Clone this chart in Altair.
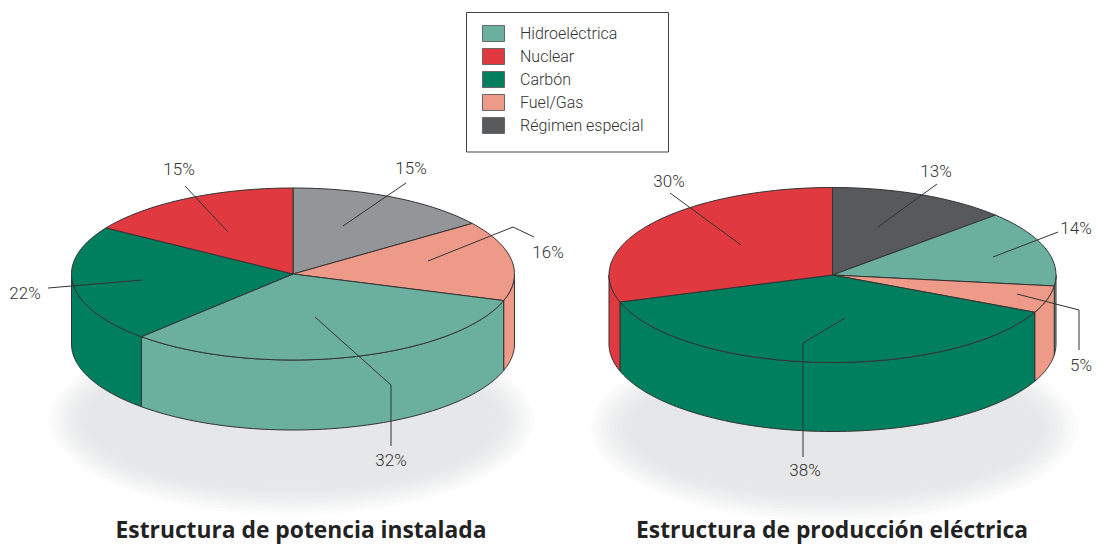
import math
import altair as alt
import pandas as pd

# ---- values ----
HIDRO, NUCLEAR, CARBON, FUEL, REGIMEN = (
    "Hidroeléctrica", "Nuclear", "Carbón", "Fuel/Gas", "Régimen especial")
legend_names = [HIDRO, NUCLEAR, CARBON, FUEL, REGIMEN]
legend_colors = ["#6BB09E", "#E03A40", "#007F5F", "#EE9A88", "#58595B"]
extra_name = "Régimen especial (potencia)"
extra_color = "#939598"

left_cats = [extra_name, FUEL, HIDRO, CARBON, NUCLEAR]
left_shares = [15, 15, 32, 22, 16]
right_cats = [REGIMEN, HIDRO, FUEL, CARBON, NUCLEAR]
right_shares = [13, 14, 5, 38, 30]

left_geom = dict(cx=293, cy=274, rx=221.5, ry=86, depth=70)
right_geom = dict(cx=832.5, cy=275, rx=223.5, ry=87.5, depth=69)

left_shadow = dict(cx=291.5, cy=420, rx0=205, ry0=67, rx1=243, ry1=95)
right_shadow = dict(cx=834, cy=428, rx0=204, ry0=65, rx1=244, ry1=94)
shadow_levels = ["#FCFCFC", "#F9F9FA", "#F6F7F7", "#F3F4F4", "#F1F1F2", "#EEEFF0",
                 "#ECEDEE", "#EAEBEC", "#E9E9EA", "#E7E8E9", "#E6E7E8"]

label_texts = ["15%", "15%", "16%", "22%", "32%", "30%", "13%", "14%", "5%", "38%"]
label_x = [179, 411, 548, 25, 391, 669, 936, 1076, 1081, 805]
label_y = [170, 169, 253, 294, 461, 182, 172, 229, 366, 471]

leaders = [
    [(185, 186), (228, 232)],
    [(48, 288), (142, 280)],
    [(406, 183), (343, 226)],
    [(534, 237), (513, 227), (428, 261)],
    [(315, 317), (391, 385), (391, 446)],
    [(670, 193), (741, 245)],
    [(845, 318), (803, 343), (803, 457)],
    [(937, 184), (878, 227)],
    [(1058, 232), (993, 257)],
    [(1017, 294), (1079, 310), (1079, 350)],
]

titles = ["Estructura de potencia instalada", "Estructura de producción eléctrica"]
title_x = [301, 832]
title_y = [538, 538]

FONT = "Roboto"
INK = "#333333"
W, H = 1084, 536

x_enc = alt.X("x:Q", axis=None, scale=alt.Scale(domain=[8, 8 + W], nice=False, zero=False))
y_enc = alt.Y("y:Q", axis=None, scale=alt.Scale(domain=[8, 8 + H], nice=False, zero=False, reverse=True))


def pt(g, deg, drop=0):
    t = math.radians(deg)
    return g["cx"] + g["rx"] * math.sin(t), g["cy"] - g["ry"] * math.cos(t) + drop


def arc(a, b):
    n = max(2, int(abs(b - a) / 1.5) + 1)
    return [a + (b - a) * k / n for k in range(n + 1)]


def pie_rows(name, g, cats, shares):
    tops, walls = [], []
    a = 0.0
    for idx, (c, s) in enumerate(zip(cats, shares)):
        b = a + s * 3.6
        key = f"{name}-{idx}"
        path = [(g["cx"], g["cy"])] + [pt(g, d) for d in arc(a, b)] + [(g["cx"], g["cy"])]
        tops += [dict(key=key, cat=c, i=i, x=p[0], y=p[1]) for i, p in enumerate(path)]
        lo, hi = max(a, 90), min(b, 270)
        if hi > lo:
            degs = arc(lo, hi)
            path = [pt(g, d) for d in degs] + [pt(g, d, g["depth"]) for d in reversed(degs)]
            path.append(path[0])
            walls += [dict(key=key, cat=c, i=i, x=p[0], y=p[1]) for i, p in enumerate(path)]
        a = b
    return tops, walls


t1, w1 = pie_rows("L", left_geom, left_cats, left_shares)
t2, w2 = pie_rows("R", right_geom, right_cats, right_shares)

fill_scale = alt.Scale(domain=legend_names + [extra_name], range=legend_colors + [extra_color])
legend = alt.Legend(
    values=legend_names, title=None, orient="none", legendX=474, legendY=14,
    symbolType="M-1,-0.73H1V0.73H-1Z", symbolSize=484, symbolStrokeColor="#666666",
    symbolStrokeWidth=1, symbolOpacity=1, rowPadding=1, labelOffset=15, labelFont=FONT,
    labelFontSize=16, labelFontWeight=300, labelColor="#333333", padding=0, labelLimit=200,
)

layers = []

# ground shadows
for s in (left_shadow, right_shadow):
    n = len(shadow_levels)
    for k, col in enumerate(shadow_levels):
        f = k / (n - 1)
        rx = s["rx1"] + (s["rx0"] - s["rx1"]) * f
        ry = s["ry1"] + (s["ry0"] - s["ry1"]) * f
        rows = [dict(i=j, x=s["cx"] + rx * math.sin(math.radians(j * 3)),
                     y=s["cy"] - ry * math.cos(math.radians(j * 3))) for j in range(121)]
        layers.append(alt.Chart(pd.DataFrame(rows)).mark_line(fill=col, strokeOpacity=0, strokeWidth=0)
                      .encode(x=x_enc, y=y_enc, order="i:Q"))

# legend frame
layers.append(alt.Chart(pd.DataFrame({"a": [0]})).mark_rect(fill="white", stroke="#444444", strokeWidth=1)
              .encode(x=alt.value(458.5), x2=alt.value(660.5), y=alt.value(4.5), y2=alt.value(144)))


def faces(rows):
    return (alt.Chart(pd.DataFrame(rows))
            .mark_line(stroke=INK, strokeWidth=1, strokeJoin="round", opacity=1)
            .encode(x=x_enc, y=y_enc, detail="key:N", order="i:Q",
                    fill=alt.Fill("cat:N", scale=fill_scale, legend=legend)))


layers += [faces(w1 + w2), faces(t1 + t2)]

# leader lines
rows = [dict(id=n, i=i, x=p[0], y=p[1]) for n, line in enumerate(leaders) for i, p in enumerate(line)]
layers.append(alt.Chart(pd.DataFrame(rows)).mark_line(color=INK, strokeWidth=1)
              .encode(x=x_enc, y=y_enc, detail="id:N", order="i:Q"))

# percentage labels
layers.append(alt.Chart(pd.DataFrame({"t": label_texts, "x": label_x, "y": label_y}))
              .mark_text(font=FONT, fontSize=17, fontWeight=300, color="#333333", align="center", baseline="middle")
              .encode(x=x_enc, y=y_enc, text="t:N"))

# titles
layers.append(alt.Chart(pd.DataFrame({"t": titles, "x": title_x, "y": title_y}))
              .mark_text(font="Open Sans", fontSize=22.8, fontWeight="bold", color="#222222", align="center",
                         baseline="alphabetic")
              .encode(x=x_enc, y=y_enc, text="t:N"))

chart = (alt.layer(*layers)
         .properties(width=W, height=H, padding=0, background="white",
                     autosize=alt.AutoSizeParams(type="none"))
         .configure_view(stroke="transparent", strokeWidth=0))
chart.save("out.html", embed_options={"renderer": "svg", "actions": False})
